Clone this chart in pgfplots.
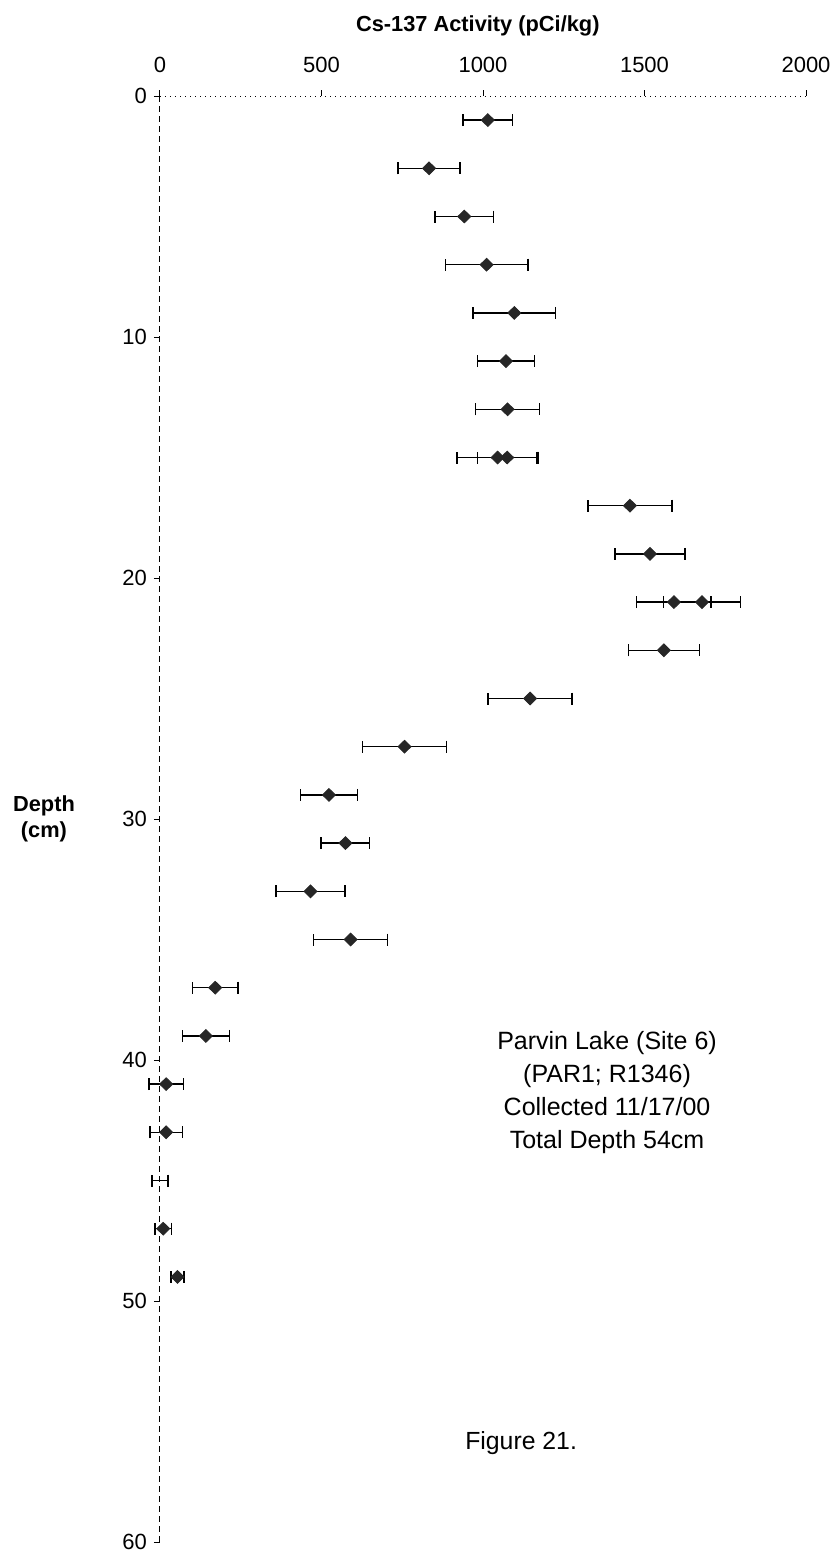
\documentclass[border=0pt]{standalone}
\usepackage{pgfplots}
\pgfplotsset{compat=1.18}
\usepackage{pgfplotstable}
\usepackage{fontspec}
\setmainfont{Liberation Sans}

\pgfplotstableread{
x y ex
1015 1 77
833 3 96
942 5 90
1011 7 128
1097 9 128
1071 11 88
1076 13 99
1045 15 125
1075 15 92
1455 17 130
1517 19 108
1591 21 115
1678 21 120
1560 23 110
1146 25 130
757 27 130
523 29 88
574 31 75
466 33 107
590 35 115
171 37 70
142 39 73
19 41 53
19 43 50
10 47 25
54 49 20
}\datatab

\pgfplotstableread{
x y ex
0 45 25
}\nomarktab

\begin{document}
\begin{tikzpicture}
\begin{axis}[
  at={(0,0)}, anchor=south west,
  scale only axis, width=323pt, height=723pt,
  xmin=0, xmax=2000, ymin=0, ymax=60,
  y dir=reverse,
  axis x line*=top, axis y line*=left,
  x axis line style={black, line width=0.5pt, dotted},
  y axis line style={black, line width=0.5pt, densely dashed},
  xtick={0,500,1000,1500,2000},
  ytick={0,10,20,30,40,50,60},
  tick align=outside,
  major tick length=3pt,
  tick style={black, line width=0.5pt},
  /pgf/number format/assume math mode=true,
  /pgf/number format/1000 sep={},
  scaled x ticks=false,
  xticklabel shift=5pt,
  xticklabel style={font=\fontsize{11}{13}\selectfont},
  yticklabel style={font=\fontsize{11}{13}\selectfont},
  clip=false,
  title={\bfseries Cs-137 Activity (pCi/kg)},
  title style={at={(axis description cs:0.492,1)}, anchor=center, yshift=29pt, font=\fontsize{10.9}{13}\selectfont},
  ylabel={\bfseries Depth\\ \bfseries (cm)},
  ylabel style={at={(axis description cs:0,0.5)}, anchor=center, rotate=-90, xshift=-58pt, align=center, font=\fontsize{10.9}{13}\selectfont},
]
\addplot[only marks, mark=diamond*, mark size=3.2pt, mark options={fill=black!85, draw=black!85, xscale=1.35},
  error bars/.cd, x dir=both, x explicit,
  error bar style={black, line width=0.7pt},
  error mark options={black, line width=0.7pt, mark size=3pt, rotate=90}]
  table[x=x, y=y, x error=ex] {\datatab};
\addplot[draw=none, mark=none,
  error bars/.cd, x dir=both, x explicit,
  error bar style={black, line width=0.7pt},
  error mark options={black, line width=0.7pt, mark size=3pt, rotate=90}]
  table[x=x, y=y, x error=ex] {\nomarktab};
\node[align=center, font=\fontsize{12.5}{16.5}\selectfont] at (axis description cs:0.692,0.311)
  {Parvin Lake (Site 6)\\(PAR1; R1346)\\Collected 11/17/00\\Total Depth 54cm};
\node[font=\fontsize{12.4}{15}\selectfont] at (axis description cs:0.559,0.0685) {Figure 21.};
\end{axis}
\pgfresetboundingbox
\useasboundingbox (-80pt,-12pt) rectangle (336.5pt,771pt);
\end{tikzpicture}
\end{document}
